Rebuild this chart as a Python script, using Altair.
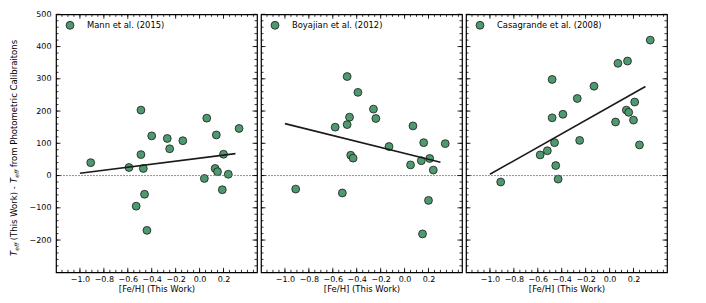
import altair as alt
import pandas as pd

# ---------------- data ----------------
mann_x = [-0.91, -0.59, -0.49, -0.49, -0.47, -0.40, -0.46, -0.53, -0.44, -0.27, -0.25,
          -0.14, 0.04, 0.06, 0.14, 0.13, 0.15, 0.20, 0.19, 0.24, 0.33]
mann_y = [40, 25, 203, 65, 22, 123, -58, -95, -170, 115, 83,
          108, -9, 178, 126, 22, 12, 66, -44, 4, 146]

boy_x = [-0.91, -0.58, -0.48, -0.48, -0.46, -0.45, -0.43, -0.52, -0.39, -0.26, -0.24,
         -0.13, 0.05, 0.07, 0.14, 0.16, 0.21, 0.20, 0.24, 0.34, 0.15]
boy_y = [-42, 150, 158, 307, 181, 63, 54, -54, 258, 206, 177,
         90, 33, 154, 46, 102, 53, -77, 17, 99, -181]

cas_x = [-0.91, -0.58, -0.52, -0.46, -0.48, -0.48, -0.45, -0.43, -0.39, -0.27, -0.25,
         -0.13, 0.05, 0.07, 0.14, 0.15, 0.16, 0.20, 0.21, 0.25, 0.34]
cas_y = [-20, 64, 77, 102, 179, 298, 31, -11, 190, 239, 109,
         277, 166, 348, 203, 355, 196, 172, 228, 95, 420]

fit_x = [-1.0, 0.3]
mann_fit = [7, 68]
boy_fit = [161, 41]
cas_fit = [4, 276]

labels = ["Mann et al. (2015)", "Boyajian et al. (2012)", "Casagrande et al. (2008)"]

x_major = [-1.0, -0.8, -0.6, -0.4, -0.2, 0.0, 0.2]
y_major = [-200, -100, 0, 100, 200, 300, 400, 500]
x_minor = [round(-1.15 + 0.05 * i, 2) for i in range(33)]
y_minor = [-280 + 20 * i for i in range(39)]

# ---------------- layout ----------------
XDOM = [-1.2, 0.48]
YDOM = [-300, 500]
W, H = 201, 258
FONT = "DejaVu Sans"
PT_FILL = "#4E9A6E"
MAJ, MIN = 4.5, 2.5

xs = alt.Scale(domain=XDOM, nice=False, zero=False)
ys = alt.Scale(domain=YDOM, nice=False, zero=False)

# DejaVu Sans advance widths (em)
CW = {"T": .611, "e": .615, "f": .352, " ": .318, "(": .390, ")": .390, "h": .634,
      "i": .278, "s": .521, "W": .989, "o": .612, "r": .411, "k": .579, "-": .361,
      "m": .974, "P": .603, "t": .392, "c": .550, "C": .698, "a": .613, "l": .278,
      "b": .635, "n": .634}


def tw(s, fs):
    return sum(CW.get(c, 0.6) for c in s) * fs


def panel(px, py, fy, label, first):
    xax = alt.Axis(values=x_major, format=".1f", labelPadding=3,
                   title="[Fe/H] (This Work)", titlePadding=1)
    yax = alt.Axis(values=y_major, labelPadding=5, title=None) if first else None

    def X(f):
        return alt.X(f, scale=xs, axis=xax)

    def Y(f):
        return alt.Y(f, scale=ys, axis=yax)

    df = pd.DataFrame({"x": px, "y": py})
    pts = alt.Chart(df).mark_point(
        shape="circle", filled=True, fill=PT_FILL, stroke="#1a1a1a", strokeWidth=0.8,
        size=62, opacity=1).encode(x=X("x:Q"), y=Y("y:Q"))
    fit = alt.Chart(pd.DataFrame({"x": fit_x, "y": fy})).mark_line(
        color="#1a1a1a", strokeWidth=1.6).encode(x=X("x:Q"), y=Y("y:Q"))
    zero = alt.Chart(pd.DataFrame({"y": [0]})).mark_rule(
        color="#777777", strokeWidth=0.8, strokeDash=[2, 1]).encode(y=Y("y:Q"))
    leg_pt = alt.Chart(pd.DataFrame({"t": [label]})).mark_point(
        shape="circle", filled=True, fill=PT_FILL, stroke="#1a1a1a", strokeWidth=0.8,
        size=62, opacity=1).encode(x=alt.value(14), y=alt.value(11))
    leg_tx = alt.Chart(pd.DataFrame({"t": [label]})).mark_text(
        font=FONT, fontSize=8.4, align="left", baseline="middle", color="black").encode(
        text="t:N", x=alt.value(31), y=alt.value(11))

    layers = [pts, zero, fit, leg_pt, leg_tx]
    for vals, ln in ((x_major, MAJ), (x_minor, MIN)):
        d = pd.DataFrame({"v": vals})
        layers.append(alt.Chart(d).mark_rule(color="black", strokeWidth=0.8).encode(
            x=X("v:Q"), y=alt.value(H), y2=alt.value(H - ln)))
        layers.append(alt.Chart(d).mark_rule(color="black", strokeWidth=0.8).encode(
            x=X("v:Q"), y=alt.value(0), y2=alt.value(ln)))
    for vals, ln in ((y_major, MAJ), (y_minor, MIN)):
        d = pd.DataFrame({"v": vals})
        layers.append(alt.Chart(d).mark_rule(color="black", strokeWidth=0.8).encode(
            y=Y("v:Q"), x=alt.value(0), x2=alt.value(ln)))
        layers.append(alt.Chart(d).mark_rule(color="black", strokeWidth=0.8).encode(
            y=Y("v:Q"), x=alt.value(W), x2=alt.value(W - ln)))

    if first:
        fs, sfs = 8.5, 6.0
        bx = -39.2
        cur = 241.7
        pieces = [("T", fs, 0, "italic"), ("eff", sfs, 2.0, "italic"),
                  (" (This Work) - ", fs, 0, "normal"), ("T", fs, 0, "italic"),
                  ("eff", sfs, 2.0, "italic"), (" from Photometric Calibraitons", fs, 0, "normal")]
        for txt, size, dx, style in pieces:
            lead = len(txt) - len(txt.lstrip(" "))
            cur -= tw(" " * lead, size)
            core = txt.strip(" ")
            layers.append(alt.Chart(pd.DataFrame({"t": [core]})).mark_text(
                font=FONT, fontSize=size, fontStyle=style, angle=270, align="left",
                baseline="alphabetic", color="black").encode(
                text="t:N", x=alt.value(bx + dx), y=alt.value(cur)))
            cur -= tw(txt.lstrip(" "), size)
    return alt.layer(*layers).properties(width=W, height=H)


chart = alt.hconcat(
    panel(mann_x, mann_y, mann_fit, labels[0], True),
    panel(boy_x, boy_y, boy_fit, labels[1], False),
    panel(cas_x, cas_y, cas_fit, labels[2], False),
    spacing=2,
).properties(
    padding={"left": 1, "top": 1.3, "right": 5, "bottom": 5}
).configure_view(
    stroke="black", strokeWidth=1.2
).configure_axis(
    labelFont=FONT, labelFontSize=8, labelColor="black",
    titleFont=FONT, titleFontSize=8.5, titleFontWeight="normal", titleColor="black",
    domain=False, ticks=False, grid=False
)

chart.save("out.html", embed_options={"renderer": "svg", "actions": False})
